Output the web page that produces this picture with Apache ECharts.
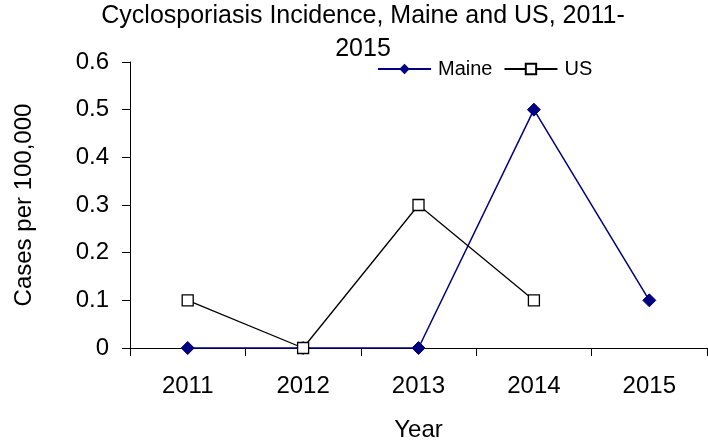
<!DOCTYPE html>
<html>
<head>
<meta charset="utf-8">
<script src="https://cdn.jsdelivr.net/npm/echarts@6/dist/echarts.min.js"></script>
<style>
  html, body { margin: 0; padding: 0; background: #fff; }
  #chart { width: 708px; height: 447px; }
</style>
</head>
<body>
<div id="chart"></div>
<script>
'use strict';
{
    const years = ['2011', '2012', '2013', '2014', '2015'];
    const maine = [0, 0, 0, 0.5, 0.1];
    const us = [0.1, 0, 0.3, 0.1, '-'];
    const yTicks = { min: 0, max: 0.6, interval: 0.1 };

    let dom = document.getElementById('chart');
    let myChart = echarts.init(dom);
    const font = 'Liberation Sans, Arial, sans-serif';

    let option = {
        animation: false,
        textStyle: { fontFamily: font, color: '#000' },
        title: {
            text: 'Cyclosporiasis Incidence, Maine and US, 2011-\n2015',
            left: 363,
            textAlign: 'center',
            top: 0,
            padding: 0,
            textStyle: { fontFamily: font, fontSize: 25, fontWeight: 'normal', color: '#000', lineHeight: 33 }
        },
        legend: {
            left: 377,
            top: 59,
            padding: 0,
            itemWidth: 53,
            itemHeight: 13,
            itemGap: 11,
            textStyle: { fontFamily: font, fontSize: 20, color: '#000', padding: [0, 0, 0, 2] },
            data: ['Maine', 'US']
        },
        grid: { left: 130, right: 1, top: 62, bottom: 99, containLabel: false },
        xAxis: {
            type: 'category',
            data: years,
            boundaryGap: true,
            name: 'Year',
            nameLocation: 'middle',
            nameGap: 70,
            nameTextStyle: { fontFamily: font, fontSize: 24, color: '#000' },
            axisLine: { lineStyle: { color: '#000', width: 1 } },
            axisTick: { show: true, length: 8, alignWithLabel: false, lineStyle: { color: '#000' } },
            axisLabel: { fontFamily: font, fontSize: 24, color: '#000', margin: 26 },
            splitLine: { show: false }
        },
        yAxis: {
            type: 'value',
            min: yTicks.min,
            max: yTicks.max,
            interval: yTicks.interval,
            name: 'Cases per 100,000',
            nameLocation: 'middle',
            nameGap: 94,
            nameTextStyle: { fontFamily: font, fontSize: 24, color: '#000' },
            axisLine: { show: true, lineStyle: { color: '#000', width: 1 } },
            axisTick: { show: true, length: 8, lineStyle: { color: '#000' } },
            axisLabel: {
                fontFamily: font, fontSize: 24, color: '#000', margin: 21,
                formatter: function (v) { return v === 0 ? '0' : v.toFixed(1); }
            },
            splitLine: { show: false }
        },
        series: [{
            name: 'Maine',
            type: 'line',
            data: maine,
            symbol: 'diamond',
            symbolSize: 13,
            lineStyle: { color: '#000080', width: 1.5 },
            itemStyle: { color: '#000080', borderColor: '#000080' },
            z: 2
        }, {
            name: 'US',
            type: 'line',
            data: us,
            symbol: 'rect',
            symbolSize: 11,
            lineStyle: { color: '#000', width: 1.3 },
            itemStyle: { color: '#fff', borderColor: '#000', borderWidth: 1.3 },
            z: 3
        }]
    };

    if (option && typeof option === 'object') {
        myChart.setOption(option, true);
    }
}
</script>
</body>
</html>
